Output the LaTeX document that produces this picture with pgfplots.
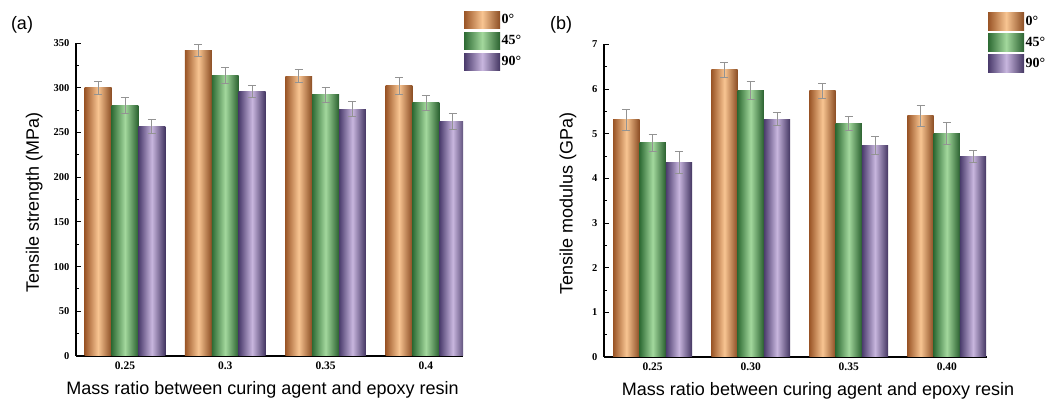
\documentclass[border=0pt]{standalone}
\usepackage{fontspec}
\setmainfont{Liberation Serif}
\newfontfamily\arial{Liberation Sans}
\usepackage{pgfplots}
\usepackage{pgfplotstable}
\pgfplotsset{compat=1.18}

\definecolor{oD}{HTML}{9A5527}
\definecolor{oL}{HTML}{F8C592}
\definecolor{gD}{HTML}{2E6B34}
\definecolor{gL}{HTML}{A3D89D}
\definecolor{pD}{HTML}{4A3B6C}
\definecolor{pL}{HTML}{C8B6DE}

\pgfplotstableread{
x o oe g ge p pe
0 300 7 280 9 257 8
1 342 7 314 9 296 7
2 313 7.5 292 8.5 276 8.5
3 302 9.5 283 8.5 262 9
}\tabA

\pgfplotstableread{
x o oe g ge p pe
0 5.31 0.23 4.80 0.19 4.36 0.25
1 6.43 0.17 5.98 0.20 5.33 0.15
2 5.96 0.17 5.23 0.15 4.74 0.21
3 5.40 0.24 5.01 0.25 4.50 0.13
}\tabB

\pgfplotsset{
  mybars/.style={
    scale only axis,
    anchor=south west,
    axis lines*=left,
    axis line style={line width=1.1pt},
    ybar=0pt,
    bar width=0.268,
    tick align=inside,
    major tick length=5pt,
    minor tick length=3pt,
    every tick/.style={black, line width=0.9pt},
    xtick={0,1,2,3},
    minor y tick num=1,
    ymin=0,
    /pgf/number format/assume math mode=true,
    yticklabel style={font=\bfseries\fontsize{10.5}{11}\selectfont, xshift=-3pt},
    xticklabel style={font=\bfseries\fontsize{11.5}{12}\selectfont, yshift=-2pt},
    label style={font=\arial\fontsize{18}{20}\selectfont},
    legend image code/.code={\path[##1, draw=none] (0pt,-8.75pt) rectangle (36pt,8.75pt);},
    legend style={at={(rel axis cs:1,1)}, anchor=north west, xshift=1pt, yshift=32pt,
      draw=none, fill=none, row sep=3.5pt, inner sep=0pt,
      font=\bfseries\fontsize{14}{14}\selectfont,
      nodes={inner sep=1.5pt}},
    legend cell align=left,
    error bars/y dir=both,
    error bars/y explicit,
    error bars/error bar style={draw=gray!85, line width=0.7pt},
    error bars/error mark options={rotate=90, mark size=4pt, draw=gray!85, line width=0.7pt},
  },
  obar/.style={draw=none, left color=oD, right color=oD!90!black, middle color=oL, bar shift=-0.268},
  gbar/.style={draw=none, left color=gD, right color=gD!90!black, middle color=gL, bar shift=0},
  pbar/.style={draw=none, left color=pD, right color=pD!90!black, middle color=pL, bar shift=0.268},
}

\begin{document}
\begin{tikzpicture}
\begin{axis}[mybars,
  at={(76pt,47pt)}, width=387pt, height=313pt,
  xmin=-0.488, xmax=3.37, ymax=350,
  ytick={0,50,...,350},
  xticklabels={0.25,0.3,0.35,0.4},
  xlabel={Mass ratio between curing agent and epoxy resin},
  ylabel={Tensile strength (MPa)},
  xlabel style={at={(axis description cs:0.482,-0.108)}, anchor=center},
  ylabel style={at={(axis description cs:-0.108,0.49)}, anchor=center},
]
\addplot[obar, restrict x to domain=0:0] table[x=x, y=o, y error=oe] {\tabA};
\addplot[gbar, restrict x to domain=0:0] table[x=x, y=g, y error=ge] {\tabA};
\addplot[pbar, restrict x to domain=0:0] table[x=x, y=p, y error=pe] {\tabA};
\legend{0°,45°,90°}
\pgfplotsinvokeforeach{1,2,3}{
\addplot[obar, restrict x to domain=#1:#1, forget plot] table[x=x, y=o, y error=oe] {\tabA};
\addplot[gbar, restrict x to domain=#1:#1, forget plot] table[x=x, y=g, y error=ge] {\tabA};
\addplot[pbar, restrict x to domain=#1:#1, forget plot] table[x=x, y=p, y error=pe] {\tabA};
}
\end{axis}

\begin{axis}[mybars,
  at={(604pt,46pt)}, width=383pt, height=312.5pt,
  xmin=-0.496, xmax=3.41, ymax=7,
  ytick={0,1,...,7},
  xticklabels={0.25,0.30,0.35,0.40},
  xlabel={Mass ratio between curing agent and epoxy resin},
  ylabel={Tensile modulus (GPa)},
  xlabel style={at={(axis description cs:0.559,-0.108)}, anchor=center},
  ylabel style={at={(axis description cs:-0.094,0.49)}, anchor=center},
]
\addplot[obar, restrict x to domain=0:0] table[x=x, y=o, y error=oe] {\tabB};
\addplot[gbar, restrict x to domain=0:0] table[x=x, y=g, y error=ge] {\tabB};
\addplot[pbar, restrict x to domain=0:0] table[x=x, y=p, y error=pe] {\tabB};
\legend{0°,45°,90°}
\pgfplotsinvokeforeach{1,2,3}{
\addplot[obar, restrict x to domain=#1:#1, forget plot] table[x=x, y=o, y error=oe] {\tabB};
\addplot[gbar, restrict x to domain=#1:#1, forget plot] table[x=x, y=g, y error=ge] {\tabB};
\addplot[pbar, restrict x to domain=#1:#1, forget plot] table[x=x, y=p, y error=pe] {\tabB};
}
\end{axis}

\node[font=\arial\fontsize{18}{18}\selectfont] at (22pt,378pt) {(a)};
\node[font=\arial\fontsize{18}{18}\selectfont] at (561pt,378pt) {(b)};

\pgfresetboundingbox
\path[use as bounding box] (0,0) rectangle (1056pt,403pt);
\end{tikzpicture}
\end{document}
